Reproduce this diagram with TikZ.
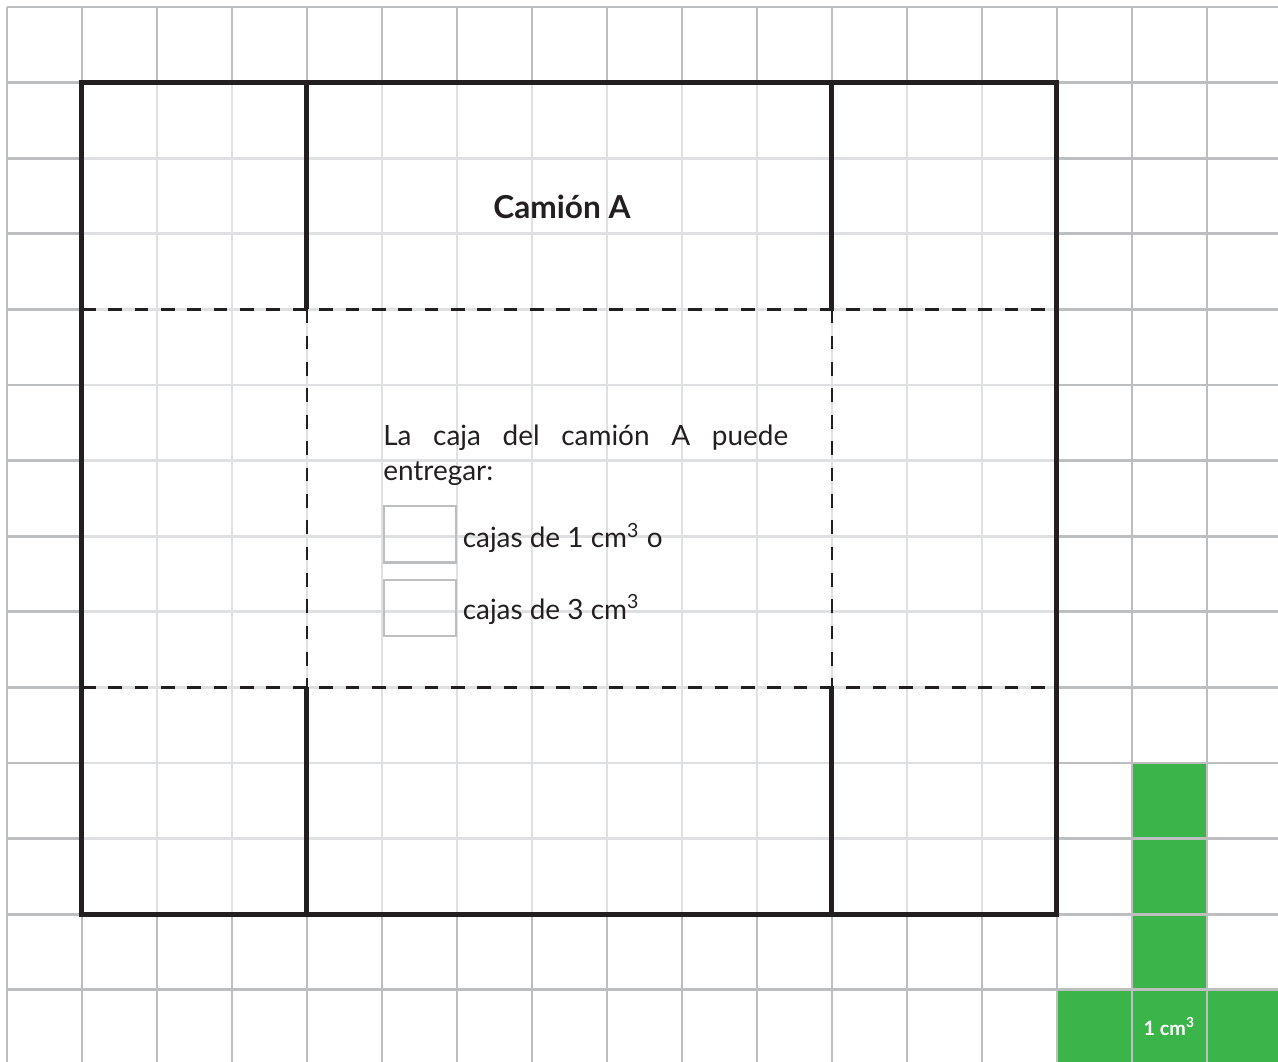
\documentclass[tikz,border=0pt]{standalone}
\usepackage{fontspec}
\setmainfont{Lato}
\usepackage{xcolor}
\definecolor{gridDark}{HTML}{BCBEC0}
\definecolor{gridLight}{HTML}{DFE0E1}
\definecolor{trazo}{HTML}{231F20}
\definecolor{verde}{HTML}{3BB54A}

\begin{document}
\begin{tikzpicture}[x=1cm, y=1.008cm,
    cuadro/.style={draw=gridDark, line width=1pt, xstep=1cm, ystep=1.008cm},
    cuadroClaro/.style={draw=gridLight, line width=1pt, xstep=1cm, ystep=1.008cm},
    borde/.style={draw=trazo, line width=1.9pt},
    corte/.style={draw=trazo, line width=1.1pt, dash pattern=on 5.2pt off 4.8pt},
    casilla/.style={draw=gridDark, line width=0.8pt, minimum width=0.96cm, minimum height=0.75cm, inner sep=0pt, anchor=north west},
    texto/.style={font=\fontsize{10.6}{13.3}\selectfont, text=trazo, inner sep=0pt}]
    \useasboundingbox (-0.093,0.0926) rectangle (16.947,-13.955);
    % cubos verdes
    \fill[verde] (15,-10) rectangle (16,-13);
    \fill[verde] (14,-13) rectangle (17,-14.2);
    % cuadricula
    \draw[cuadro] (0,0) grid (16.95,-13.99);
    \draw[cuadroClaro] (1,-1) grid (14,-12);
    % caja del camion
    \draw[corte] (1,-4) -- (14,-4);
    \draw[corte] (1,-9) -- (14,-9);
    \draw[corte] (4,-4) -- (4,-9);
    \draw[corte] (11,-4) -- (11,-9);
    \draw[borde] (1,-1) rectangle (14,-12);
    \draw[borde] (4,-1) -- (4,-4);
    \draw[borde] (11,-1) -- (11,-4);
    \draw[borde] (4,-9) -- (4,-12);
    \draw[borde] (11,-9) -- (11,-12);
    % textos
    \node[font=\bfseries\fontsize{12}{14}\selectfont, text=trazo, anchor=base] (camion) at (7.4,-2.8) {Camión A};
    \node[texto, text width=5.4cm, align=justify, anchor=north west] (caja) at (5.01,-5.52) {La caja del camión A puede\linebreak entregar:};
    \node[casilla] (casillaA) at (5.01,-6.59) {};
    \node[casilla] (casillaB) at (5.01,-7.56) {};
    \node[texto, anchor=base west] (cajasUno) at (6.07,-7.15) {cajas de 1 cm\textsuperscript{3} o};
    \node[texto, anchor=base west] (cajasTres) at (6.07,-8.10) {cajas de 3 cm\textsuperscript{3}};
    \node[font=\bfseries\fontsize{7.5}{9}\selectfont, text=white, anchor=base] (unidad) at (15.5,-13.6) {1 cm\textsuperscript{3}};
\end{tikzpicture}
\end{document}
